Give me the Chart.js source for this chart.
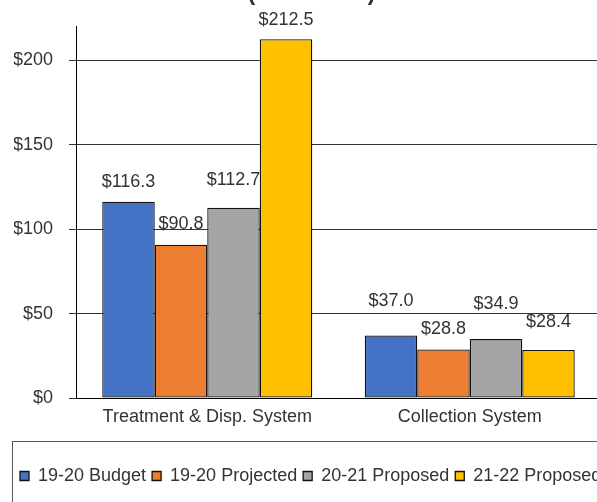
<!DOCTYPE html>
<html>
<head>
<meta charset="utf-8">
<script src="https://cdn.jsdelivr.net/npm/chart.js@4/dist/chart.umd.min.js"></script>
<style>
  html, body { margin: 0; padding: 0; background: #fff; overflow: hidden; width: 597px; height: 502px; }
  #wrap { position: absolute; left: 0; top: -30px; width: 609px; height: 532px; }
</style>
</head>
<body>
<div id="wrap"><canvas id="c" width="609" height="532"></canvas></div>
<script>
const titleText = '(In Millions)';
const categories = ['Treatment & Disp. System', 'Collection System'];
const seriesNames = ['19-20 Budget', '19-20 Projected', '20-21 Proposed', '21-22 Proposed'];
const budget1920 = [116.3, 37.0];
const projected1920 = [90.8, 28.8];
const proposed2021 = [112.7, 34.9];
const proposed2122 = [212.5, 28.4];
const yTickValues = [0, 50, 100, 150, 200];
const labelLift = [[20, 35], [21, 20], [28, 35], [19, 28]];

const colors = ['#4472C4', '#ED7D31', '#A5A5A5', '#FFC000'];
const textColor = '#333333';
const fontFamily = "'Liberation Sans', Arial, sans-serif";

Chart.defaults.font.family = fontFamily;
Chart.defaults.color = textColor;

const seriesValues = [budget1920, projected1920, proposed2021, proposed2122];

const valueLabels = {
  id: 'valueLabels',
  afterDatasetDraw(chart, args) {
    const ctx = chart.ctx;
    const i = args.index;
    const meta = args.meta;
    ctx.save();
    ctx.font = '18px ' + fontFamily;
    ctx.fillStyle = textColor;
    ctx.textAlign = 'center';
    ctx.textBaseline = 'middle';
    meta.data.forEach((bar, j) => {
      const v = chart.data.datasets[i].data[j];
      ctx.fillText('$' + v.toFixed(1), bar.x, bar.y - labelLift[i][j]);
    });
    ctx.restore();
  }
};

const legendFrame = {
  id: 'legendFrame',
  afterDraw(chart) {
    const lg = chart.legend;
    const ctx = chart.ctx;
    ctx.save();
    ctx.strokeStyle = '#595959';
    ctx.lineWidth = 1;
    ctx.strokeRect(12.5, Math.round(lg.top - 20) + 0.5, chart.width + 20, 200);
    ctx.restore();
  }
};

new Chart(document.getElementById('c'), {
  type: 'bar',
  data: {
    labels: categories,
    datasets: seriesNames.map((n, i) => ({
      label: n,
      data: seriesValues[i],
      backgroundColor: colors[i],
      borderColor: '#111111',
      borderWidth: 1.3,
      borderSkipped: false,
      categoryPercentage: 0.8,
      barPercentage: 1.0
    }))
  },
  options: {
    responsive: false,
    animation: false,
    events: [],
    layout: { padding: { left: 14, right: 0, top: 0, bottom: 7 } },
    plugins: {
      title: {
        display: true,
        text: titleText,
        color: textColor,
        font: { size: 23, weight: 'bold', family: fontFamily },
        padding: { top: 10, bottom: 19 }
      },
      legend: {
        display: true,
        position: 'bottom',
        align: 'start',
        labels: {
          color: textColor,
          font: { size: 18, family: fontFamily },
          boxWidth: 9,
          boxHeight: 9,
          padding: 6
        }
      },
      tooltip: { enabled: false }
    },
    scales: {
      x: {
        grid: { display: false, drawTicks: false },
        border: { display: true, color: '#000000', width: 1 },
        ticks: { color: textColor, font: { size: 18 }, padding: 8, maxRotation: 0 },
        afterFit(s) { s.height = 63; }
      },
      y: {
        min: 0,
        max: 220,
        afterBuildTicks(s) {
          s.ticks = yTickValues.map(v => ({ value: v })).concat([{ value: 220 }]);
        },
        grid: {
          color: (c) => (c.tick && c.tick.value === 220) ? 'rgba(0,0,0,0)' : '#333333',
          tickLength: 7,
          drawTicks: true,
          lineWidth: 1
        },
        border: { display: true, color: '#000000', width: 1 },
        ticks: {
          color: textColor,
          font: { size: 18 },
          padding: 16,
          callback: (v) => yTickValues.includes(v) ? '$' + v : ''
        },
        afterFit(s) { s.width = 62; }
      },
      yR: {
        position: 'right',
        display: true,
        grid: { display: false, drawTicks: false },
        border: { display: false },
        ticks: { display: false },
        afterFit(s) { s.width = 8; }
      }
    }
  },
  plugins: [valueLabels, legendFrame]
});
</script>
</body>
</html>
